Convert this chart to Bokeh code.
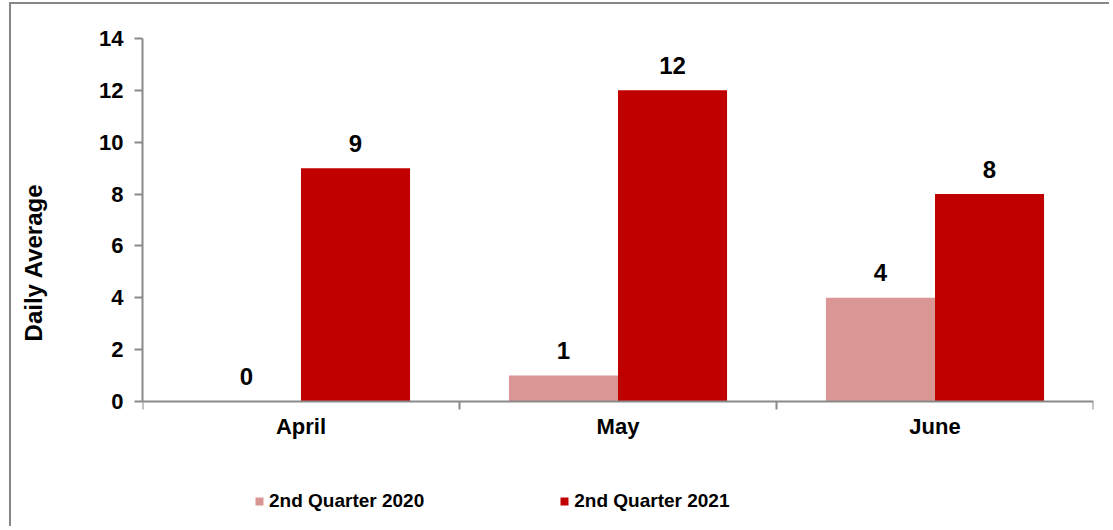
from bokeh.plotting import figure
from bokeh.models import (ColumnDataSource, FixedTicker, Legend, LegendItem,
                          Range1d, LinearAxis)
from bokeh.transform import dodge
from bokeh.embed import file_html
from bokeh.resources import INLINE

months = ["April", "May", "June"]
q2_2020 = [0, 1, 4]
q2_2021 = [9, 12, 8]
series_names = ["2nd Quarter 2020", "2nd Quarter 2021"]
y_ticks = [0, 2, 4, 6, 8, 10, 12, 14]

c2020 = "#d99694"
c2021 = "#c00000"
axis_col = "#8a8a8a"
FONT = "Liberation Sans"

n = len(months)
xpos = list(range(n))
src = ColumnDataSource(dict(
    x=xpos,
    month=months,
    zero=[0] * n,
    v2020=q2_2020,
    v2021=q2_2021,
    t2020=[str(v) for v in q2_2020],
    t2021=[str(v) for v in q2_2021],
))

# frame layout: 25.93 px per unit; frame runs from just below the top edge
# down past the legend so that the legend and labels are not clipped
PX = 25.93
y_top = 395 / PX
y_bottom = y_top - 512 / PX
p = figure(
    x_range=Range1d(-0.5, n - 0.5),
    y_range=Range1d(y_bottom, y_top),
    width=1100, height=524,
    output_backend="svg", toolbar_location=None,
    min_border_left=131, min_border_right=18,
    min_border_top=2, min_border_bottom=10,
)
p.styles = {"margin-left": "9px", "margin-top": "2px",
            "border-left": "2px solid #878787", "border-top": "2px solid #878787"}
p.outline_line_color = None
p.xgrid.visible = False
p.ygrid.visible = False
p.background_fill_color = "white"
p.border_fill_color = "white"

bw = 0.344
r1 = p.vbar(x=dodge("x", -bw / 2), top="v2020", width=bw,
            source=src, fill_color=c2020, line_color=None)
r2 = p.vbar(x=dodge("x", bw / 2), top="v2021", width=bw,
            source=src, fill_color=c2021, line_color=None)

for xo, vcol, tcol in ((-bw / 2, "v2020", "t2020"), (bw / 2, "v2021", "t2021")):
    p.text(x=dodge("x", xo), y=vcol, text=tcol,
           source=src, text_align="center", text_baseline="alphabetic", y_offset=-25,
           text_font={"value": FONT}, text_font_style="bold", text_font_size="24px",
           text_color="black")

# category labels under the axis
p.text(x="x", y="zero", text="month", source=src,
       text_align="center", text_baseline="top", y_offset=12,
       text_font={"value": FONT}, text_font_style="bold", text_font_size="22px",
       text_color="black")

# y axis
p.yaxis.ticker = FixedTicker(ticks=y_ticks)
p.yaxis.bounds = (0, 14)
p.yaxis.minor_tick_line_color = None
p.yaxis.major_tick_out = 8
p.yaxis.major_tick_in = 0
p.yaxis.major_tick_line_color = axis_col
p.yaxis.major_tick_line_width = 2
p.yaxis.axis_line_color = axis_col
p.yaxis.axis_line_width = 2
p.yaxis.major_label_standoff = 11
p.yaxis.major_label_text_font = FONT
p.yaxis.major_label_text_font_style = "bold"
p.yaxis.major_label_text_font_size = "22px"
p.yaxis.major_label_text_color = "black"

# secondary (label-only) axis for the y title
ylab_axis = LinearAxis(
    axis_label="Daily Average", ticker=FixedTicker(ticks=[]),
    axis_line_color=None,
    major_tick_line_color=None, minor_tick_line_color=None,
    axis_label_standoff=50,
    axis_label_text_font=FONT, axis_label_text_font_style="bold",
    axis_label_text_font_size="24px", axis_label_text_color="black",
)
p.add_layout(ylab_axis, "left")

# x axis drawn at y = 0, with boundary ticks between months
p.xaxis.fixed_location = 0
p.xaxis.bounds = (-0.5, n - 0.5)
p.xaxis.ticker = FixedTicker(ticks=[], minor_ticks=[i - 0.5 for i in range(n + 1)])
p.xaxis.major_tick_line_color = None
p.xaxis.major_tick_out = 0
p.xaxis.major_tick_in = 0
p.xaxis.minor_tick_out = 8
p.xaxis.minor_tick_in = 0
p.xaxis.minor_tick_line_color = axis_col
p.xaxis.minor_tick_line_width = 2
p.xaxis.axis_line_color = axis_col
p.xaxis.axis_line_width = 2
p.xaxis.major_label_standoff = 0

legend = Legend(
    items=[LegendItem(label=series_names[0], renderers=[r1]),
           LegendItem(label=series_names[1], renderers=[r2])],
    orientation="horizontal", location=(112, 6),
    border_line_color=None, background_fill_alpha=0,
    padding=0, margin=0, spacing=135,
    glyph_width=10, glyph_height=10, label_standoff=5, label_height=20,
    label_text_font=FONT, label_text_font_style="bold",
    label_text_font_size="19px", label_text_color="black",
)
p.add_layout(legend, "center")

open("out.html", "w").write(file_html(p, INLINE))
